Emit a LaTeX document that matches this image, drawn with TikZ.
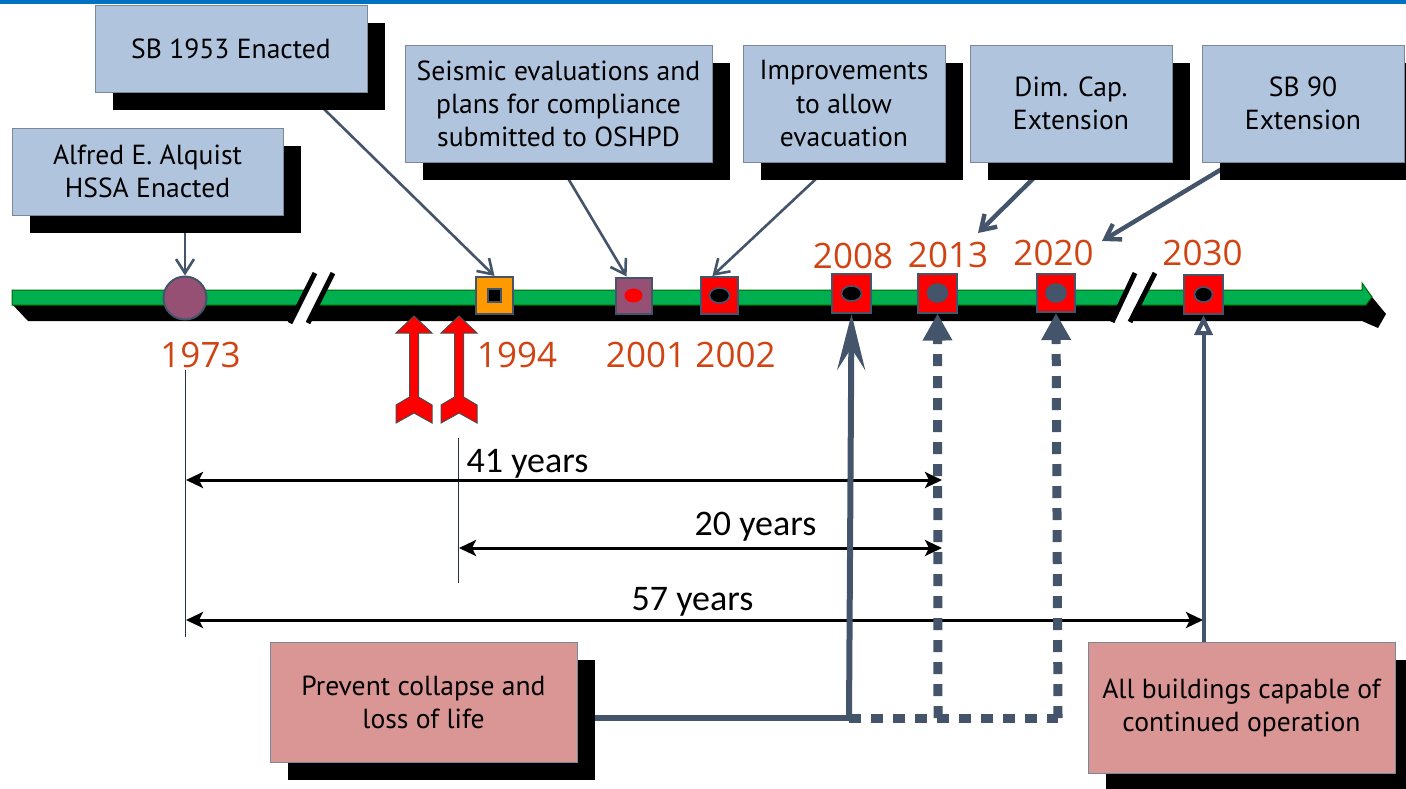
\documentclass[tikz,border=0pt]{standalone}
\usepackage{fontspec}
\setmainfont{PT Sans}
\newfontfamily\yearfont{Open Sans}
\newfontfamily\spanfont{Carlito}
\usetikzlibrary{arrows.meta,shapes.geometric,shadows,backgrounds}
\definecolor{topblue}{RGB}{0,112,192}
\definecolor{boxblue}{RGB}{176,196,222}
\definecolor{goalpink}{RGB}{218,150,148}
\definecolor{slate}{RGB}{68,84,106}
\definecolor{yearred}{RGB}{208,68,20}
\definecolor{tlgreen}{RGB}{0,176,80}
\definecolor{mkorange}{RGB}{255,153,0}
\definecolor{mkpurple}{RGB}{149,80,115}
\newcommand{\boxtext}{\fontsize{13.8}{16.5}\selectfont}

\begin{document}
\begin{tikzpicture}
[x=0.5pt,y=-0.5pt,every node/.style={inner sep=0pt},
 infobox/.style={rectangle,draw=slate!70,fill=boxblue,align=center,font=\boxtext,
   drop shadow={shadow xshift=9pt,shadow yshift=-9pt,opacity=1,fill=black}},
 goalbox/.style={infobox,fill=goalpink},
 marker/.style={rectangle,draw=slate,line width=1pt,minimum size=19pt},
 dot/.style={ellipse,draw=slate,line width=0.8pt,minimum width=10pt,minimum height=7.5pt},
 year/.style={text=yearred,font=\yearfont\fontsize{17.5}{17.5}\selectfont},
 spanlabel/.style={font=\spanfont\fontsize{18}{18}\selectfont,anchor=base},
 span/.style={line width=1.5pt,{Stealth[length=8.5pt,width=8pt,inset=2pt]}-{Stealth[length=8.5pt,width=8pt,inset=2pt]}},
 link/.style={draw=slate,line width=1.3pt,-{Straight Barb[length=7pt,width=9pt]}},
 redarrow/.style={fill=red,draw=black!70,line width=0.5pt}]
\useasboundingbox (0,0) rectangle (1406,788);
\fill[topblue] (0,0) rectangle (1406,4);

% timeline bar
\fill[black] (12,304) -- (28,321) -- (1362,321) -- (1378,328) -- (1386,314) -- (1372,297) -- (1362,304) -- cycle;
\draw[fill=tlgreen,draw=green!40!black,line width=0.5pt] (12,290) -- (1362,290) -- (1362,283) -- (1372,297) -- (1366,305) -- (12,305) -- cycle;
\fill[white] (315,273) -- (333,273) -- (308,323) -- (290,323) -- cycle;
\fill[white] (1135,273) -- (1155,273) -- (1130,322) -- (1112,322) -- cycle;
\draw[line width=2.5pt] (315,273) -- (290,323) (333,273) -- (308,323);
\draw[line width=2.5pt] (1135,273) -- (1112,322) (1155,273) -- (1130,322);

% markers
\node[circle,draw=slate,line width=1pt,fill=mkpurple,minimum size=21.5pt] (m1973) at (185,298) {};
\node[marker,fill=mkorange,minimum size=18.5pt] (m1994) at (494.5,295.5) {};
\node[rectangle,draw=slate,line width=0.8pt,fill=black,minimum size=6.5pt] at (m1994) {};
\node[marker,fill=mkpurple,minimum size=18pt] (m2001) at (633.5,295.5) {};
\node[dot,fill=red,draw=none,minimum width=9pt,minimum height=7pt] at (m2001) {};
\node[marker,fill=red,minimum size=18.5pt] (m2002) at (719.5,295.5) {};
\node[dot,fill=black] at (m2002) {};
\node[marker,fill=red,minimum size=19.5pt] (m2008) at (851.5,293.5) {};
\node[dot,fill=black] at (m2008) {};
\node[marker,fill=red,minimum size=19.5pt] (m2013) at (937.5,293) {};
\node[dot,fill=slate,minimum height=9pt] at (m2013) {};
\node[marker,fill=red,minimum size=19pt] (m2020) at (1056,293) {};
\node[dot,fill=slate,minimum height=9pt] at (m2020) {};
\node[marker,fill=red,minimum size=19.5pt] (m2030) at (1203.5,294.5) {};
\node[dot,fill=black,minimum width=9pt] at (m2030) {};

% years
\node[year] (y1973) at (200.5,355) {1973};
\node[year] (y1994) at (517,355) {1994};
\node[year] (y2001) at (646,355) {2001};
\node[year] (y2002) at (735.5,355) {2002};
\node[year] (y2008) at (853,256) {2008};
\node[year] (y2013) at (948,254.5) {2013};
\node[year] (y2020) at (1053.5,252.5) {2020};
\node[year] (y2030) at (1202.5,252.5) {2030};

% red arrows
\foreach \cx in {414,459}
  \draw[redarrow] (\cx,316) -- ++(-18,17) -- ++(13.5,0) -- ++(0,64) -- ++(-13.5,8) -- ++(0,18)
    -- ++(18,-10) -- ++(18,10) -- ++(0,-18) -- ++(-13.5,-8) -- ++(0,-64) -- ++(13.5,0) -- cycle;

% boxes
\node[infobox,minimum width=136pt,minimum height=43.5pt] (sb1953) at (231,48.5) {SB 1953 Enacted};
\node[infobox,minimum width=135.5pt,minimum height=43.5pt] (alquist) at (147.5,171.5) {Alfred E. Alquist\\HSSA Enacted};
\node[infobox,minimum width=153.5pt,minimum height=58.5pt] (seismic) at (558.5,103.5) {Seismic evaluations and\\plans for compliance\\submitted to OSHPD};
\node[infobox,minimum width=101pt,minimum height=58.5pt] (improve) at (844,103.5) {Improvements\\to allow\\evacuation};
\node[infobox,minimum width=101pt,minimum height=58.5pt] (dimcap) at (1071,103.5) {Dim. Cap.\\Extension};
\node[infobox,minimum width=101pt,minimum height=58.5pt] (sb90) at (1303,103.5) {SB 90\\Extension};
\node[goalbox,minimum width=153.5pt,minimum height=60pt] (prevent) at (423.5,702) {Prevent collapse and\\loss of life};
\node[goalbox,minimum width=153.5pt,minimum height=65.5pt] (allbldg) at (1241.5,707.5) {All buildings capable of\\continued operation};

% box connectors
\coordinate (p2013) at (978,233);
\coordinate (p2020) at (1102,241);
\begin{scope}[on background layer]
\draw[link] (alquist.south -| m1973) -- (m1973.north);
\draw[link] (sb1953.-30) -- (m1994.north);
\draw[link] (seismic.south) -- (m2001.110);
\draw[link] (improve.-100) -- (m2002.110);
\draw[link,line width=2.2pt] (dimcap.-110) -- (p2013);
\draw[link,line width=2.2pt] (sb90.-140) -- (p2020);
\end{scope}

% spans
\coordinate (v1973a) at (185,370); \coordinate (v1973b) at (185,637);
\coordinate (v1994a) at (458,438); \coordinate (v1994b) at (458,583);
\draw[slate!60!black,line width=0.5pt] (v1973a) -- (v1973b) (v1994a) -- (v1994b);
\coordinate (s41a) at (186,480); \coordinate (s41b) at (942,480);
\coordinate (s20a) at (459,548); \coordinate (s20b) at (942,548);
\coordinate (s57a) at (186,620); \coordinate (s57b) at (1203,620);
\foreach \from/\to in {s41a/s41b,s20a/s20b,s57a/s57b}
  \draw[span] (\from) -- (\to);
\node[spanlabel] (l41) at (527.5,472) {41 years};
\node[spanlabel] (l20) at (755.5,535) {20 years};
\node[spanlabel] (l57) at (692.5,610) {57 years};

% goal connectors
\coordinate (junction) at (849,718);
\coordinate (c2013) at (938,718);
\coordinate (c2020) at (1058,718);
\draw[slate,line width=3pt] ([xshift=9pt]prevent.east |- junction) -- (junction);
\draw[slate,line width=3pt,-{Stealth[length=28pt,width=14pt,inset=11pt]}] (junction) -- (m2008.south);
\draw[slate,line width=4.5pt,dash pattern=on 6pt off 5pt] (junction) -- (c2020);
\draw[slate,line width=4.5pt,dash pattern=on 6pt off 5pt,-{Triangle[length=13.5pt,width=14pt]}] (c2013) -- (m2013.south);
\draw[slate,line width=4.5pt,dash pattern=on 6pt off 5pt,-{Triangle[length=13.5pt,width=14pt]}] (c2020) -- (m2020.south);
\draw[slate,line width=2pt,-{Triangle[open,length=10pt,width=9pt]}] (allbldg.north -| m2030) -- (m2030.south);
\end{tikzpicture}
\end{document}
